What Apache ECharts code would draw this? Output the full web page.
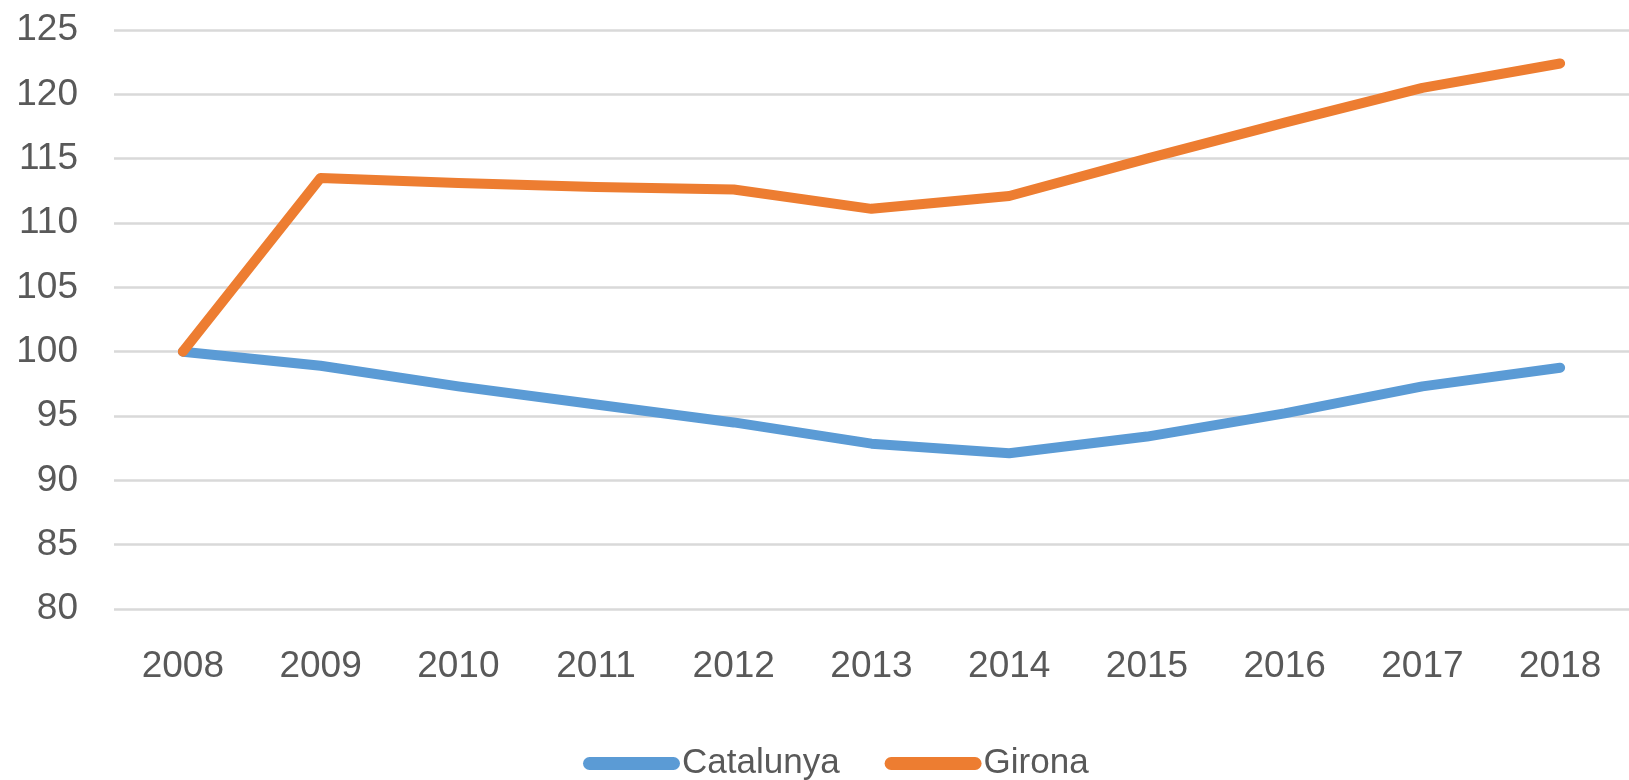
<!DOCTYPE html>
<html>
<head>
<meta charset="utf-8">
<script src="https://cdn.jsdelivr.net/npm/echarts@6/dist/echarts.min.js"></script>
<style>
  html, body { margin: 0; padding: 0; background: #fff; }
  #chart { width: 1629px; height: 780px; }
</style>
</head>
<body>
<div id="chart"></div>
<script>
// years on the category axis
const years = ['2008', '2009', '2010', '2011', '2012', '2013', '2014', '2015', '2016', '2017', '2018'];
// index, 2008 = 100
const catalunya = [100, 98.9, 97.3, 95.9, 94.5, 92.85, 92.1, 93.4, 95.2, 97.3, 98.75];
const girona = [100, 113.5, 113.1, 112.8, 112.6, 111.1, 112.1, 115.0, 117.8, 120.5, 122.4];

const labelColor = '#595959';
const font = 'Liberation Sans, Arial, sans-serif';
// capsule-shaped legend marker
const legendIcon = 'path://M6.5,0 H90.5 A6.5,6.5 0 0 1 90.5,13 H6.5 A6.5,6.5 0 0 1 6.5,0 Z';

const chart = echarts.init(document.getElementById('chart'));
chart.setOption({
  animation: false,
  grid: { left: 114, right: -2, top: 30, bottom: 171, containLabel: false },
  legend: {
    left: 578,
    top: 741,
    itemWidth: 97,
    itemHeight: 13,
    itemGap: 45,
    textStyle: { color: labelColor, fontSize: 35, fontFamily: font, padding: [0, 0, 0, -3] },
    data: [
      { name: 'Catalunya', icon: legendIcon },
      { name: 'Girona', icon: legendIcon }
    ]
  },
  xAxis: {
    type: 'category',
    data: years,
    boundaryGap: true,
    axisLine: { show: false },
    axisTick: { show: false },
    axisLabel: { color: labelColor, fontSize: 37, fontFamily: font, margin: 39 }
  },
  yAxis: {
    type: 'value',
    min: 80,
    max: 125,
    interval: 5,
    axisLine: { show: false },
    axisTick: { show: false },
    axisLabel: { color: labelColor, fontSize: 37, fontFamily: font, margin: 36 },
    splitLine: { lineStyle: { color: '#d9d9d9', width: 2.5 } }
  },
  series: [
    {
      name: 'Catalunya',
      type: 'line',
      data: catalunya,
      showSymbol: false,
      symbol: 'none',
      itemStyle: { color: '#5b9bd5' },
      lineStyle: { color: '#5b9bd5', width: 10, cap: 'round', join: 'round' }
    },
    {
      name: 'Girona',
      type: 'line',
      data: girona,
      showSymbol: false,
      symbol: 'none',
      itemStyle: { color: '#ed7d31' },
      lineStyle: { color: '#ed7d31', width: 10, cap: 'round', join: 'round' }
    }
  ]
});
</script>
</body>
</html>
